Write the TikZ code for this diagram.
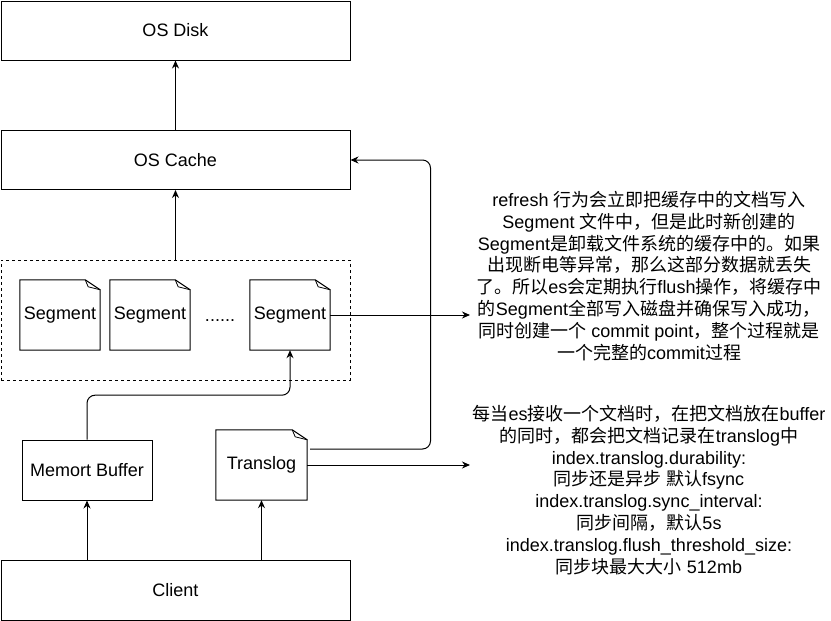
\documentclass[tikz,border=0pt]{standalone}
\usepackage{fontspec}
\setmainfont{Liberation Sans}
\newfontfamily\cjk{Noto Sans CJK SC}
\newcommand{\zh}[1]{{\cjk #1}}
\usepackage{tikz}
\usetikzlibrary{arrows.meta,calc,positioning}
\tikzset{
	box/.style={draw,line width=1pt,minimum width=349pt,minimum height=59pt,anchor=center},
	smallbox/.style={draw,line width=1pt,minimum width=130pt,minimum height=60pt,anchor=center},
	notebox/.style={minimum width=80pt,minimum height=70pt,inner sep=0pt,anchor=center},
	link/.style={line width=1pt,-{Stealth[length=8pt,width=7pt]}},
	infotext/.style={align=center,anchor=center,inner sep=0pt},
}
\begin{document}
\begin{tikzpicture}[x=1pt,y=-1pt,font=\fontsize{18}{21.8}\selectfont]
				\useasboundingbox (0,0) rectangle (831,621);
				\node (osdisk) at (175.5,30.5) [box] {OS Disk};
				\node (oscache) at (175.5,160) [box] {OS Cache};
				\node (segarea) at (175.5,320) [draw,line width=1pt,dash pattern=on 3pt off 3pt,minimum width=349pt,minimum height=120pt] {};
				\node (seg1) at (60,315) [notebox] {Segment};
				\node (seg2) at (150,315) [notebox] {Segment};
				\node (dots) at (220,321) [anchor=base,inner sep=0pt] {......};
				\node (seg3) at (290,315) [notebox] {Segment};
				\node (membuf) at (87,470) [smallbox] {Memort Buffer};
				\node (tlog) at (261.5,465) [notebox,minimum width=91pt] {Translog};
				\node (client) at (175.5,590) [box,minimum height=60pt] {Client};
				% folded corner outlines
				\foreach \n in {seg1,seg2,seg3,tlog}{
					\draw[line width=1pt] (\n.north west) -- ([xshift=-15pt]\n.north east) -- ([yshift=-10pt]\n.north east) -- (\n.south east) -- (\n.south west) -- cycle;
					\draw[line width=0.8pt] ([xshift=-15pt]\n.north east) -- ([xshift=-12pt,yshift=-7pt]\n.north east) -- ([yshift=-10pt]\n.north east);
				}
				\node (refreshtxt) at (649,276) [infotext] {refresh \zh{行为会立即把缓存中的文档写入}\\Segment \zh{文件中，但是此时新创建的}\\Segment\zh{是卸载文件系统的缓存中的。如果}\\\zh{出现断电等异常，那么这部分数据就丢失}\\\zh{了。所以}es\zh{会定期执行}flush\zh{操作，将缓存中}\\\zh{的}Segment\zh{全部写入磁盘并确保写入成功，}\\\zh{同时创建一个} commit point\zh{，整个过程就是}\\\zh{一个完整的}commit\zh{过程}};
				\node (tlogtxt) at (649,490) [infotext] {\zh{每当}es\zh{接收一个文档时，在把文档放在}buffer\\\zh{的同时，都会把文档记录在}translog\zh{中}\\index.translog.durability:\\\zh{同步还是异步 默认}fsync\\index.translog.sync\_interval:\\\zh{同步间隔，默认}5s\\index.translog.flush\_threshold\_size:\\\zh{同步块最大大小} 512mb};
				\coordinate (refreshend) at (470,315);
				\coordinate (tlogend) at (470,465);
				\draw[link] (oscache.north) -- (osdisk.south);
				\draw[link] (segarea.north) -- (oscache.south);
				\draw[link] (seg3.east) -- (refreshend);
				\draw[link] (tlog.east) -- (tlogend);
				\draw[link,rounded corners=8pt] ($(tlog.east)+(3,-16)$) -| ($(oscache.east)+(80,0)$) -- (oscache.east);
				\draw[link,rounded corners=8pt] (membuf.north) |- ($(seg3.south)+(0,45)$) -- (seg3.south);
				\draw[link] (membuf.south |- client.north) -- (membuf.south);
				\draw[link] (tlog.south |- client.north) -- (tlog.south);
\end{tikzpicture}
\end{document}
